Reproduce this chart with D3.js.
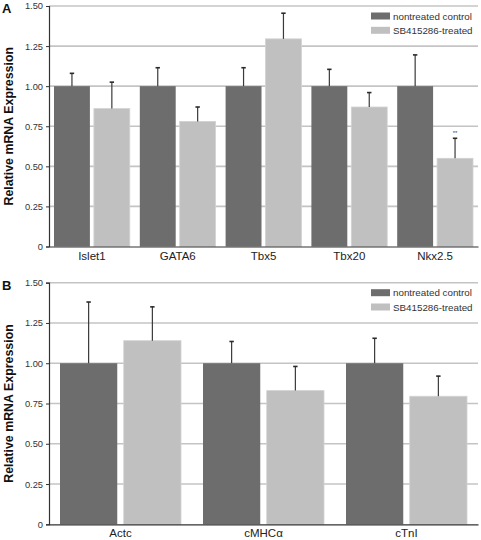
<!DOCTYPE html>
<html><head><meta charset="utf-8">
<script src="https://cdn.jsdelivr.net/npm/d3@7"></script>
<style>body{margin:0;background:#fff}svg{display:block;font-family:"Liberation Sans",Arial,sans-serif}</style>
</head><body><svg id="c" width="481" height="540"></svg>
<script>
const seriesNames = ["nontreated control", "SB415286-treated"];
const colors = ["#6d6d6d", "#c0c0c0"];
const yTicks = [0, 0.25, 0.5, 0.75, 1.0, 1.25, 1.5];
const yTickLabels = ["0", "0.25", "0.50", "0.75", "1.00", "1.25", "1.50"];

const catsA = ["Islet1", "GATA6", "Tbx5", "Tbx20", "Nkx2.5"];
const ctrlA = [1.0, 1.0, 1.0, 1.0, 1.0];
const ctrlErrA = [0.08, 0.115, 0.115, 0.105, 0.195];
const trtA = [0.86, 0.78, 1.295, 0.87, 0.55];
const trtErrA = [0.165, 0.09, 0.16, 0.09, 0.125];
const sigA = ["", "", "", "", "**"];

const catsB = ["Actc", "cMHCα", "cTnI"];
const ctrlB = [1.0, 1.0, 1.0];
const ctrlErrB = [0.38, 0.135, 0.155];
const trtB = [1.14, 0.83, 0.795];
const trtErrB = [0.21, 0.15, 0.125];
const sigB = ["", "", ""];

const svg = d3.select("#c");

function panel(opt) {
  const {letter, cats, vals, errs, sig, top, bottom, left, right, pad, gap} = opt;
  const g = svg.append("g");
  const y = d3.scaleLinear().domain([0, 1.5]).range([bottom, top]);
  const x0 = d3.scaleBand().domain(cats).range([left, right]).paddingInner(0).paddingOuter(0);
  const bw = x0.bandwidth();
  const barW = (bw - 2 * pad - gap) / 2;
  const xs = (i, s) => x0(cats[i]) + pad + s * (barW + gap);

  // gridlines
  g.selectAll("line.grid").data(yTicks.filter(t => t > 0)).join("line")
    .attr("x1", left).attr("x2", right)
    .attr("y1", d => y(d)).attr("y2", d => y(d))
    .attr("stroke", "#c4c4c4").attr("stroke-width", 1.6);

  // bars
  [0, 1].forEach(s => {
    g.selectAll("rect.s" + s).data(vals[s]).join("rect")
      .attr("x", (d, i) => xs(i, s)).attr("width", barW)
      .attr("y", d => y(d)).attr("height", d => y(0) - y(d))
      .attr("fill", colors[s])
      .attr("stroke", s === 1 ? "#d2d2d2" : "none").attr("stroke-width", 0.8);
  });
  // error bars
  [0, 1].forEach(s => {
    const data = vals[s].map((v, i) => ({v, e: errs[s][i], i}));
    g.selectAll("line.e" + s).data(data).join("line")
      .attr("x1", d => xs(d.i, s) + barW / 2).attr("x2", d => xs(d.i, s) + barW / 2)
      .attr("y1", d => y(d.v)).attr("y2", d => y(d.v + d.e))
      .attr("stroke", "#3a3a3a").attr("stroke-width", 1.2);
    g.selectAll("line.c" + s).data(data).join("line")
      .attr("x1", d => xs(d.i, s) + barW / 2 - 2.2).attr("x2", d => xs(d.i, s) + barW / 2 + 2.2)
      .attr("y1", d => y(d.v + d.e)).attr("y2", d => y(d.v + d.e))
      .attr("stroke", "#2a2a2a").attr("stroke-width", 1.6);
  });
  // significance
  g.selectAll("text.sig").data(sig).join("text")
    .attr("x", (d, i) => xs(i, 1) + barW / 2)
    .attr("y", (d, i) => y(vals[1][i] + errs[1][i]) - 3)
    .attr("text-anchor", "middle").attr("font-size", 6).attr("fill", "#444")
    .text(d => d);

  // y axis
  const ya = d3.axisLeft(y).tickValues(yTicks).tickFormat((d, i) => yTickLabels[i]).tickSize(3).tickPadding(3);
  const ag = g.append("g").attr("transform", `translate(${left},0)`).call(ya);
  ag.select(".domain").attr("stroke", "#333").attr("stroke-width", 1.2);
  ag.selectAll(".tick line").attr("stroke", "#333");
  ag.selectAll("text").attr("font-size", 9.3).attr("fill", "#333").attr("font-family", "Liberation Sans, Arial, sans-serif");

  // x axis
  const xa = d3.axisBottom(x0).tickSize(0).tickPadding(5);
  const xg = g.append("g").attr("transform", `translate(0,${bottom})`).call(xa);
  xg.select(".domain").attr("stroke", "#333").attr("stroke-width", 1.2);
  xg.selectAll("text").attr("font-size", 11.5).attr("fill", "#222").attr("font-family", "Liberation Sans, Arial, sans-serif");

  // y title
  g.append("text").attr("transform", `translate(13,${(top + bottom) / 2}) rotate(-90)`)
    .attr("text-anchor", "middle").attr("font-size", 12.4).attr("font-weight", "bold").attr("fill", "#111")
    .text("Relative mRNA Expression");

  // letter
  g.append("text").attr("x", 2).attr("y", top + 7).attr("font-size", 13).attr("font-weight", "bold").attr("fill", "#111").text(letter);

  // legend
  const lg = g.append("g");
  seriesNames.forEach((n, i) => {
    lg.append("rect").attr("x", 371).attr("y", top + 6.5 + i * 14.3).attr("width", 19).attr("height", 7)
      .attr("fill", colors[i]);
    lg.append("text").attr("x", 393).attr("y", top + 13.5 + i * 14.3).attr("font-size", 9.8).attr("fill", "#333")
      .text(n);
  });
}

panel({letter: "A", cats: catsA, vals: [ctrlA, trtA], errs: [ctrlErrA, trtErrA], sig: sigA,
  top: 6, bottom: 246.5, left: 49, right: 478, pad: 5, gap: 4});
panel({letter: "B", cats: catsB, vals: [ctrlB, trtB], errs: [ctrlErrB, trtErrB], sig: sigB,
  top: 282.7, bottom: 524.3, left: 49, right: 478, pad: 11, gap: 6.5});
</script></body></html>
